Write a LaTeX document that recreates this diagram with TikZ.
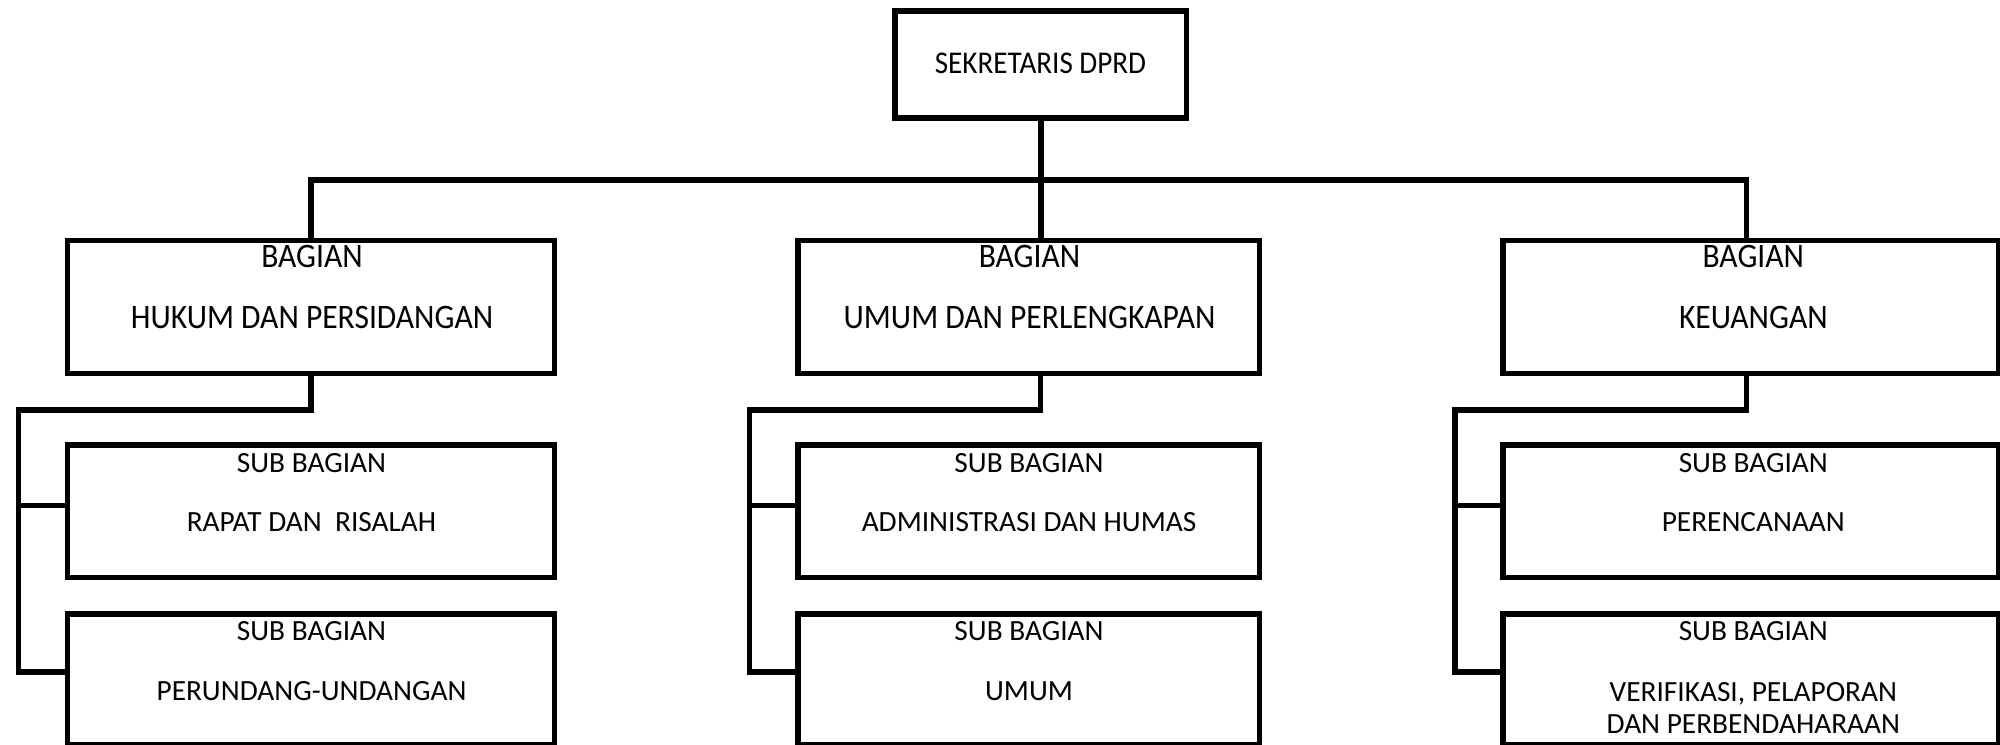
\documentclass[tikz,border=0pt]{standalone}
\usepackage{fontspec}
\setmainfont{Carlito}
\newfontfamily\condfont[FakeStretch=0.92]{Carlito}
\tikzset{
  box/.style={draw, rectangle, line width=0.055cm, inner sep=0pt, outer sep=0pt},
  conn/.style={line width=0.055cm, line join=miter},
  lbl/.style={anchor=base, inner sep=0pt, font=\fontsize{8.34}{10}\selectfont},
  hlbl/.style={anchor=base, inner sep=0pt, font=\condfont\fontsize{9.76}{12}\selectfont},
  tlbl/.style={anchor=base, inner sep=0pt, font=\condfont\fontsize{9.0}{11}\selectfont},
}
\begin{document}
\begin{tikzpicture}[x=0.01cm,y=-0.01cm]
\fill[white] (0,0) rectangle (2000,744);
\useasboundingbox (0,0) rectangle (2000,744);
\begin{scope}
\clip (0,0) rectangle (2000,744);
% boxes
\node[box, minimum width=2.915cm, minimum height=1.07cm] (top) at (1040.75,64.5) {};
\node[box, minimum width=4.87cm, minimum height=1.33cm] (hL) at (311,307) {};
\node[box, minimum width=4.615cm, minimum height=1.33cm] (hM) at (1028.75,307) {};
\node[box, minimum width=4.96cm, minimum height=1.33cm] (hR) at (1751,307) {};
\node[box, minimum width=4.87cm, minimum height=1.325cm] (sL1) at (311,511.25) {};
\node[box, minimum width=4.87cm, minimum height=1.305cm] (sL2) at (311,679.25) {};
\node[box, minimum width=4.615cm, minimum height=1.325cm] (sM1) at (1028.75,511.25) {};
\node[box, minimum width=4.615cm, minimum height=1.305cm] (sM2) at (1028.75,679.25) {};
\node[box, minimum width=4.96cm, minimum height=1.325cm] (sR1) at (1751,511.25) {};
\node[box, minimum width=4.96cm, minimum height=1.305cm] (sR2) at (1751,679.25) {};
% junction coordinates
\coordinate (bus) at (1041,180);
\coordinate (jL) at (311,410);
\coordinate (jM) at (1040.5,410);
\coordinate (jR) at (1746.5,410);
\coordinate (railL) at (18.5,410);
\coordinate (railM) at (749.5,410);
\coordinate (railR) at (1455,410);
\coordinate (t1) at (0,505.5);
\coordinate (t2) at (0,672);
% top connectors
\draw[conn] (top.south -| bus) -- (hM.north -| bus);
\draw[conn] (hL.north) |- (bus) -| (hR.north -| jR);
% left group
\draw[conn] (hL.south -| jL) -- (jL) -- (railL) -- (railL |- t2) -- (t2 -| sL2.west);
\draw[conn] (railL |- t1) -- (t1 -| sL1.west);
% middle group
\draw[conn] (hM.south -| jM) -- (jM) -- (railM) -- (railM |- t2) -- (t2 -| sM2.west);
\draw[conn] (railM |- t1) -- (t1 -| sM1.west);
% right group
\draw[conn] (hR.south -| jR) -- (jR) -- (railR) -- (railR |- t2) -- (t2 -| sR2.west);
\draw[conn] (railR |- t1) -- (t1 -| sR1.west);
\end{scope}
% texts
\node[tlbl] (tT) at (1040.5,73) {SEKRETARIS DPRD};
\node[hlbl] (hLa) at (312,267.3) {BAGIAN};
\node[hlbl] (hLb) at (312,328.3) {HUKUM DAN PERSIDANGAN};
\node[hlbl] (hMa) at (1029.5,267.3) {BAGIAN};
\node[hlbl] (hMb) at (1029.5,328.3) {UMUM DAN PERLENGKAPAN};
\node[hlbl] (hRa) at (1753.3,267.3) {BAGIAN};
\node[hlbl] (hRb) at (1753.3,328.3) {KEUANGAN};
\node[lbl] (sL1a) at (311.5,472.3) {SUB BAGIAN};
\node[lbl] (sL1b) at (311.5,531.7) {RAPAT DAN\ \ RISALAH};
\node[lbl] (sL2a) at (311.5,640.5) {SUB BAGIAN};
\node[lbl] (sL2b) at (311.5,700) {PERUNDANG-UNDANGAN};
\node[lbl] (sM1a) at (1029,472.3) {SUB BAGIAN};
\node[lbl] (sM1b) at (1029,531.7) {ADMINISTRASI DAN HUMAS};
\node[lbl] (sM2a) at (1029,640.5) {SUB BAGIAN};
\node[lbl] (sM2b) at (1029,700) {UMUM};
\node[lbl] (sR1a) at (1753.3,472.3) {SUB BAGIAN};
\node[lbl] (sR1b) at (1753.3,531.7) {PERENCANAAN};
\node[lbl] (sR2a) at (1753.3,640.5) {SUB BAGIAN};
\node[lbl] (sR2b) at (1753.3,701) {VERIFIKASI, PELAPORAN};
\node[lbl] (sR2c) at (1753.3,733.3) {DAN PERBENDAHARAAN};
\end{tikzpicture}
\end{document}
